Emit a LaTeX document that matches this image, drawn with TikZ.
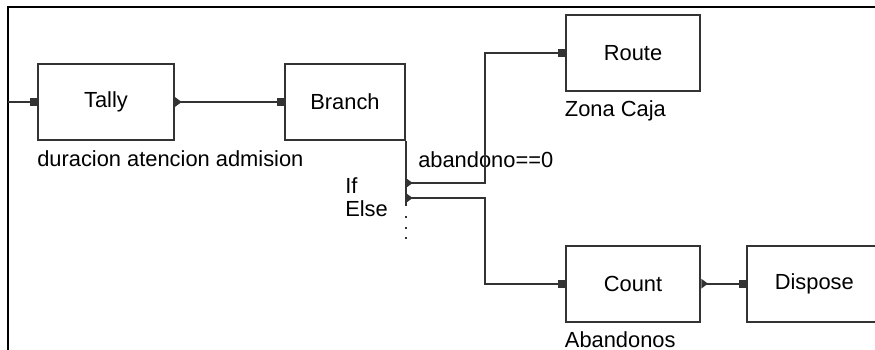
\documentclass[tikz,border=0pt]{standalone}
\usepackage{fontspec}
\setmainfont{Liberation Sans}
\usetikzlibrary{positioning,arrows.meta}

\tikzset{
  block/.style={draw=black!80, line width=1.5pt, shape=rectangle, minimum width=101pt, minimum height=57pt, font=\fontsize{16.4}{19}\selectfont},
  note/.style={anchor=base west, inner sep=0pt, font=\fontsize{16.4}{19}\selectfont},
  wire/.style={draw=black!80, line width=1.5pt},
  inwire/.style={wire, -{Square[length=5.2pt,width=6pt]}},
  link/.style={wire, {Triangle[reversed,length=5pt,width=7pt]}-{Square[length=5.2pt,width=6pt]}},
}

\begin{document}
\begin{tikzpicture}[x=0.75pt, y=-0.75pt]
\useasboundingbox (0,0) rectangle (875,350);
% sheet border
\draw[line width=2.2pt] (8,351) -- (8,7) -- (876,7);

\node[block, minimum width=102pt] (tally) at (106,102) {Tally};
\node[block, minimum width=90pt, right of=tally, node distance=179.25pt] (branch) {Branch};
\node[block] (route) at (633,53) {Route};
\node[block, below of=route, node distance=173pt] (count) {Count};
\node[block, right of=count, node distance=136pt] (dispose) {Dispose};

\node[note] (tallyname) at ([yshift=-18.75pt]tally.south west) {duracion atencion admision};
\node[note] (routename) at ([yshift=-18pt]route.south west) {Zona Caja};
\node[note] (countname) at ([yshift=-18.75pt]count.south west) {Abandonos};
\node[note] (cond) at ([xshift=9pt,yshift=-19.5pt]branch.south east) {abandono==0};
\node[note] (iflbl) at ([xshift=-45.75pt,yshift=-39pt]branch.south east) {If};
\node[note] (elselbl) at ([xshift=-45.75pt,yshift=-56.25pt]branch.south east) {Else};

% branch exits
\coordinate (ifout) at ([yshift=-31.5pt]branch.south east);
\coordinate (elseout) at ([yshift=-42.75pt]branch.south east);
\coordinate (solidend) at ([yshift=-48.75pt]branch.south east);
\coordinate (dotstart) at ([yshift=-56.25pt]branch.south east);
\coordinate (dotend) at ([yshift=-75pt]branch.south east);
\draw[wire] (branch.south east) -- (solidend);
\draw[wire, line width=1.4pt, dash pattern=on 1.5pt off 6.5pt] (dotstart) -- (dotend);

\coordinate (feed) at (8,102);
\draw[inwire] (feed) -- (tally.west);
\draw[link] (tally.east) -- (branch.west);
\draw[link] (ifout) -| ([xshift=-60pt]route.west) |- (route.west);
\draw[link] (elseout) -| ([xshift=-60pt]count.west) |- (count.west);
\draw[link] (count.east) -- (dispose.west);
\end{tikzpicture}
\end{document}
